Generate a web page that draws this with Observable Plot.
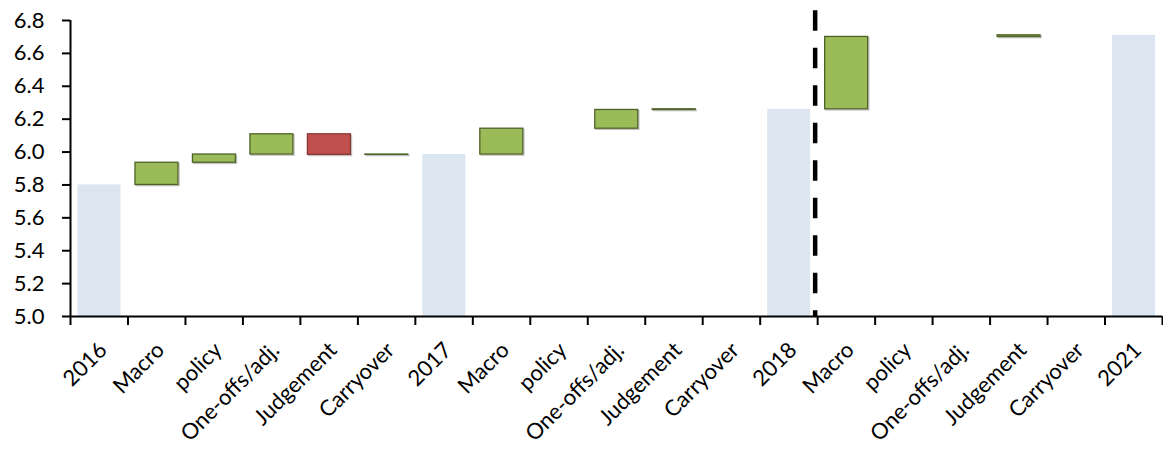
<!DOCTYPE html>
<html>
<head>
<meta charset="utf-8">
<script src="https://cdn.jsdelivr.net/npm/d3@7"></script>
<script src="https://cdn.jsdelivr.net/npm/@observablehq/plot@0.6"></script>
<style>
  html, body { margin: 0; padding: 0; background: #fff; }
  #chart { width: 1163px; height: 458px; }
</style>
</head>
<body>
<div id="chart"></div>
<script>
// Forecast years shown as full bars
const totalYears = ["2016", "2017", "2018", "2021"];
const totalValues = [5.80, 5.985, 6.26, 6.71];

// Contributions between successive years
const contributionLabels = ["Macro", "policy", "One-offs/adj.", "Judgement", "Carryover"];
const contributionsTo2017 = [0.135, 0.05, 0.123, -0.125, 0.002];
const contributionsTo2018 = [0.157, 0, 0.114, 0.004, 0];
const contributionsTo2021 = [0.44, 0, 0, 0.01, 0];

const yTicks = [5.0, 5.2, 5.4, 5.6, 5.8, 6.0, 6.2, 6.4, 6.6, 6.8];

// Build the waterfall rows in axis order
const steps = [contributionsTo2017, contributionsTo2018, contributionsTo2021];
const categories = [];
const totals = [];
const deltas = [];
totalYears.forEach((year, k) => {
  totals.push({i: categories.length, value: totalValues[k]});
  categories.push(year);
  if (k < steps.length) {
    let base = totalValues[k];
    steps[k].forEach((v, j) => {
      deltas.push({i: categories.length, from: base, to: base + v, value: v});
      categories.push(contributionLabels[j]);
      base += v;
    });
  }
});
const n = categories.length;
const breakAfter = categories.indexOf("2018") + 1;

const font = "Lato, 'Open Sans', sans-serif";

const chart = Plot.plot({
  width: 1163,
  height: 458,
  marginLeft: 70,
  marginRight: 1,
  marginTop: 20,
  marginBottom: 142,
  style: {fontFamily: font, fontSize: "22px", color: "#000", background: "#fff"},
  x: {domain: [0, n], axis: null},
  y: {domain: [5, 6.8], axis: null},
  marks: [
    Plot.rectY(totals, {
      x1: d => d.i, x2: d => d.i + 1, y1: 5, y2: "value",
      insetLeft: 7.5, insetRight: 7, fill: "#DCE6F1"
    }),
    // soft drop shadow under the contribution boxes
    Plot.rectY(deltas.filter(d => d.value !== 0), {
      x1: d => d.i, x2: d => d.i + 1, y1: "from", y2: "to",
      insetLeft: 7.5, insetRight: 7, dx: 1.2, dy: 1.2,
      fill: "none", stroke: "#9a9a9a", strokeWidth: 1.3, strokeOpacity: 0.6
    }),
    Plot.rectY(deltas.filter(d => d.value !== 0), {
      x1: d => d.i, x2: d => d.i + 1, y1: "from", y2: "to",
      insetLeft: 7.5, insetRight: 7,
      fill: d => d.value < 0 ? "#C0504D" : "#9BBB59",
      stroke: d => d.value < 0 ? "#8C3836" : "#4F6228",
      strokeWidth: 1.3
    }),
    // forecast break
    Plot.ruleX([breakAfter], {
      y1: 6.86, y2: 5.0, dx: -2.5,
      stroke: "#000", strokeWidth: 4.5, strokeDasharray: "20.7,16.8"
    }),
    // axes
    Plot.axisY({
      ticks: yTicks, tickFormat: d => d.toFixed(1),
      tickSize: 8, tickPadding: 18, strokeWidth: 2, stroke: "#000",
      fontSize: 22, fill: "#000"
    }),
    Plot.ruleX([0], {y1: 5, y2: 6.8, stroke: "#000", strokeWidth: 2}),
    Plot.ruleY([5], {x1: 0, x2: n, stroke: "#000", strokeWidth: 2}),
    Plot.axisX({
      ticks: d3.range(n + 1), tickFormat: () => "",
      tickSize: 9, strokeWidth: 2, stroke: "#000"
    }),
    Plot.axisX({
      ticks: d3.range(n).map(i => i + 0.5),
      tickFormat: v => categories[Math.floor(v)],
      tickSize: 0, tickRotate: -45, tickPadding: 30, dx: 4,
      fontSize: 22, fill: "#000"
    })
  ]
});
document.getElementById("chart").appendChild(chart);
</script>
</body>
</html>
